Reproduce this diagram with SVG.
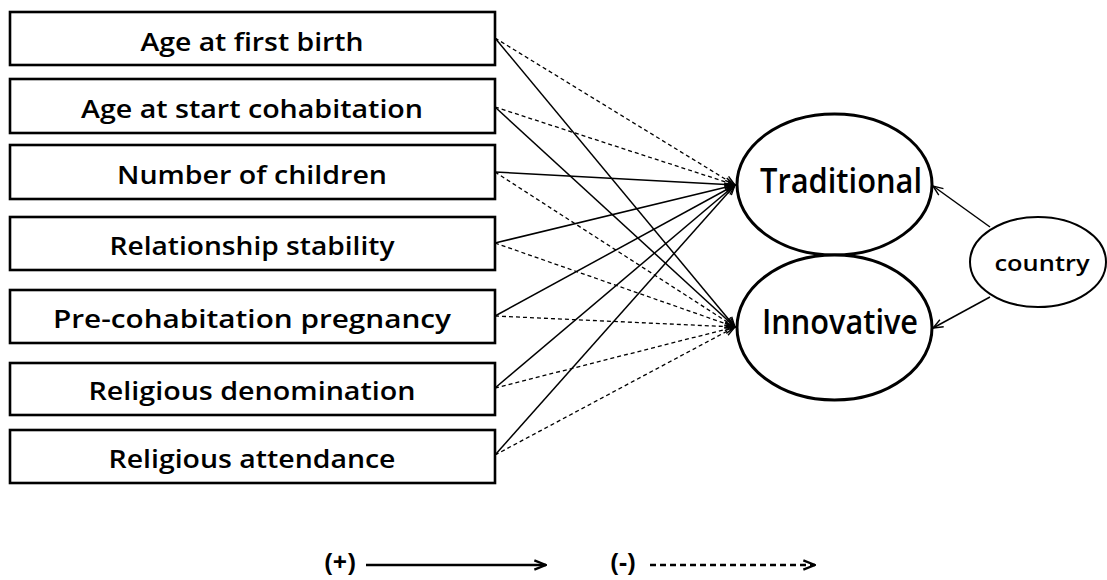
<svg xmlns="http://www.w3.org/2000/svg" width="1107" height="580" viewBox="0 0 1107 580">
<style>
.box{fill:#fff;stroke:#000;stroke-width:2.6}
.ell{fill:#fff;stroke:#000;stroke-width:3}
.lbl{font-family:"Open Sans","Liberation Sans",sans-serif;font-size:26px;font-weight:600;text-anchor:middle;fill:#000}
.big{font-family:"Open Sans","Liberation Sans",sans-serif;font-size:35px;font-weight:600;text-anchor:middle;fill:#000}
.sm{font-family:"Open Sans","Liberation Sans",sans-serif;font-size:22px;font-weight:600;text-anchor:middle;fill:#000}
.leg{font-family:"Open Sans","Liberation Sans",sans-serif;font-size:25px;font-weight:bold;text-anchor:middle;fill:#000}
.pos{stroke:#000;stroke-width:1.5;fill:none;marker-end:url(#ah)}
.neg{stroke:#000;stroke-width:1.3;stroke-dasharray:4 3;fill:none;marker-end:url(#ah)}
</style>
<defs>
<marker id="ah" viewBox="0 0 12 10" refX="11" refY="5" markerWidth="12" markerHeight="10" markerUnits="userSpaceOnUse" orient="auto">
<path d="M1,1 L11,5 L1,9" fill="none" stroke="#000" stroke-width="1.4"/>
</marker>
<marker id="ahL" viewBox="0 0 12 10" refX="11" refY="5" markerWidth="14" markerHeight="12" markerUnits="userSpaceOnUse" orient="auto">
<path d="M1,1 L11,5 L1,9" fill="none" stroke="#000" stroke-width="2"/>
</marker>
</defs>
<rect width="1107" height="580" fill="#fff"/>
<g id="connectors">
<line class="neg" x1="495" y1="38" x2="735" y2="185"/>
<line class="pos" x1="495" y1="38" x2="735" y2="327"/>
<line class="neg" x1="495" y1="107" x2="735" y2="185"/>
<line class="pos" x1="495" y1="107" x2="735" y2="327"/>
<line class="pos" x1="495" y1="172" x2="735" y2="185"/>
<line class="neg" x1="495" y1="172" x2="735" y2="327"/>
<line class="pos" x1="495" y1="243" x2="735" y2="185"/>
<line class="neg" x1="495" y1="243" x2="735" y2="327"/>
<line class="pos" x1="495" y1="316" x2="735" y2="185"/>
<line class="neg" x1="495" y1="316" x2="735" y2="327"/>
<line class="pos" x1="495" y1="388" x2="735" y2="185"/>
<line class="neg" x1="495" y1="388" x2="735" y2="327"/>
<line class="pos" x1="495" y1="455" x2="735" y2="185"/>
<line class="neg" x1="495" y1="455" x2="735" y2="327"/>
<line class="pos" x1="990" y1="227" x2="933" y2="186"/>
<line class="pos" x1="990" y1="297" x2="933" y2="328"/>
</g>
<g id="n1"><rect class="box" x="10" y="12" width="485" height="53"/><text class="lbl" x="252" y="51" textLength="223" lengthAdjust="spacingAndGlyphs">Age at first birth</text></g>
<g id="n2"><rect class="box" x="10" y="79" width="485" height="54"/><text class="lbl" x="252" y="118" textLength="342" lengthAdjust="spacingAndGlyphs">Age at start cohabitation</text></g>
<g id="n3"><rect class="box" x="10" y="145" width="485" height="54"/><text class="lbl" x="252" y="184" textLength="270" lengthAdjust="spacingAndGlyphs">Number of children</text></g>
<g id="n4"><rect class="box" x="10" y="217" width="485" height="53"/><text class="lbl" x="252" y="255" textLength="285" lengthAdjust="spacingAndGlyphs">Relationship stability</text></g>
<g id="n5"><rect class="box" x="10" y="290" width="485" height="53"/><text class="lbl" x="252" y="328" textLength="398" lengthAdjust="spacingAndGlyphs">Pre-cohabitation pregnancy</text></g>
<g id="n6"><rect class="box" x="10" y="363" width="485" height="52"/><text class="lbl" x="252" y="400" textLength="327" lengthAdjust="spacingAndGlyphs">Religious denomination</text></g>
<g id="n7"><rect class="box" x="10" y="430" width="485" height="53"/><text class="lbl" x="252" y="468" textLength="287" lengthAdjust="spacingAndGlyphs">Religious attendance</text></g>
<g id="traditional"><ellipse class="ell" cx="834.5" cy="184.5" rx="97.5" ry="70.5"/><text class="big" x="841" y="193" textLength="162" lengthAdjust="spacingAndGlyphs">Traditional</text></g>
<g id="innovative"><ellipse class="ell" cx="834.5" cy="327.5" rx="97.5" ry="72.5"/><text class="big" x="840" y="334" textLength="156" lengthAdjust="spacingAndGlyphs">Innovative</text></g>
<g id="country"><ellipse cx="1038" cy="262" rx="68" ry="45" fill="#fff" stroke="#000" stroke-width="2"/><text class="sm" x="1042" y="271" textLength="95" lengthAdjust="spacingAndGlyphs">country</text></g>
<g id="legend">
<text class="leg" x="340" y="571">(+)</text>
<line x1="366" y1="565" x2="546" y2="565" stroke="#000" stroke-width="2.5" marker-end="url(#ahL)"/>
<text class="leg" x="623" y="571">(-)</text>
<line x1="650" y1="565" x2="815" y2="565" stroke="#000" stroke-width="2.5" stroke-dasharray="6 4" marker-end="url(#ahL)"/>
</g>
</svg>
